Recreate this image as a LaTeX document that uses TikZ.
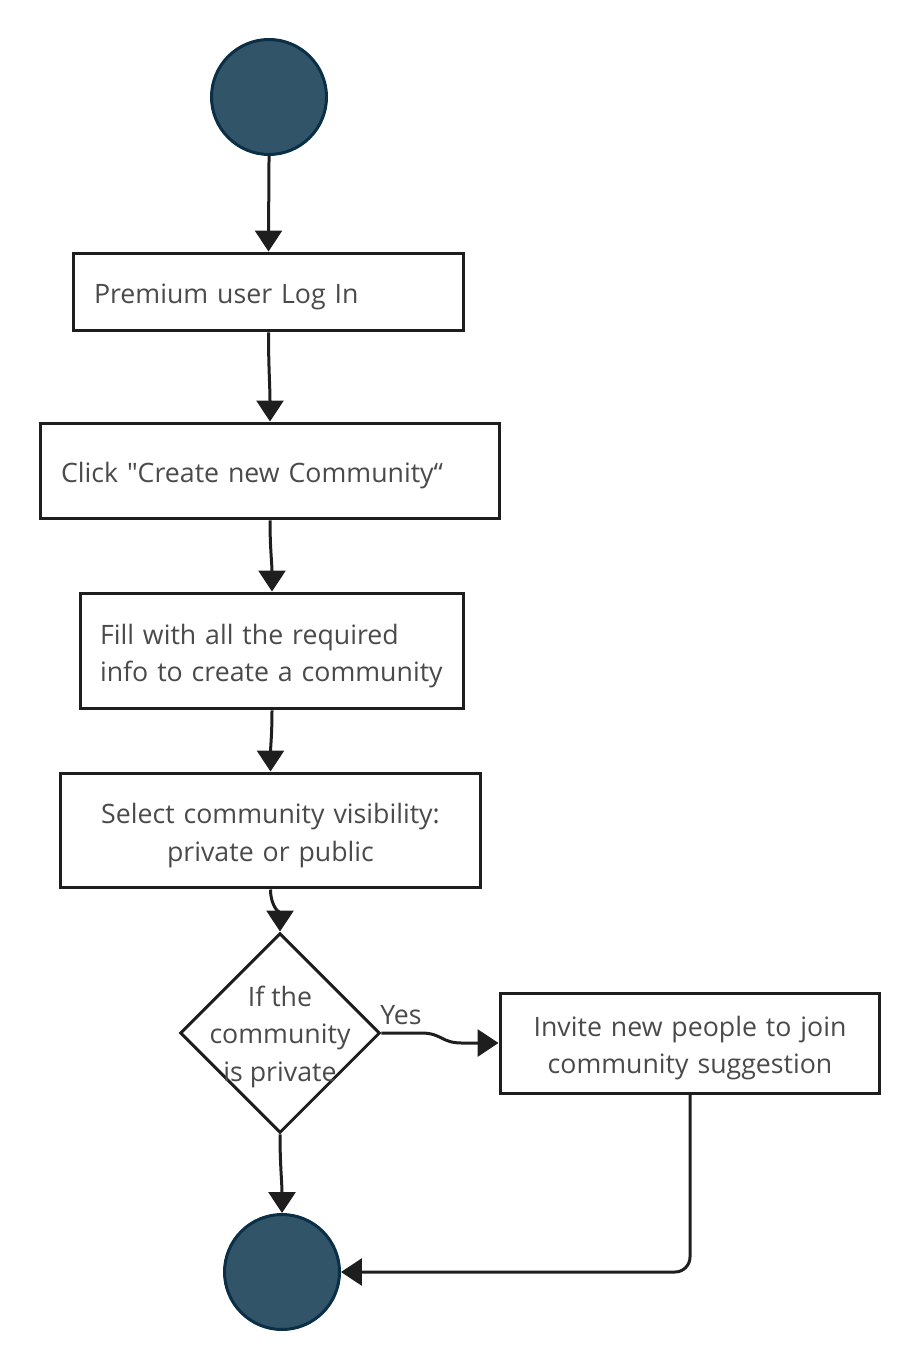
\documentclass[tikz,border=0pt]{standalone}
\usepackage{fontspec}
\setmainfont{Open Sans}
\usetikzlibrary{positioning, arrows.meta, shapes.geometric}
\definecolor{termfill}{HTML}{315468}
\definecolor{termline}{HTML}{0A2F47}
\definecolor{inkline}{HTML}{1E1E1E}
\definecolor{inktext}{HTML}{4A4A4A}

\begin{document}
\begin{tikzpicture}[x=0.02cm, y=-0.02cm,
  every node/.style={font=\fontsize{15.2pt}{21.3pt}\selectfont, text=inktext},
  terminal/.style={circle, draw=termline, fill=termfill, line width=0.06cm, minimum size=2.3cm, inner sep=0pt},
  actbox/.style={rectangle, draw=inkline, line width=0.06cm, inner xsep=0.42cm,
    execute at begin node={\rule{0pt}{\dimexpr\fontcharht\font`l+0.2cm\relax}}},
  decision/.style={diamond, draw=inkline, line width=0.06cm, minimum size=4cm, inner sep=0pt},
  flow/.style={draw=inkline, line width=0.06cm, -{Triangle[width=0.54cm, length=0.42cm]}}]
\useasboundingbox (0,0) rectangle (920,1371);

% start and steps
\node[terminal] (start) at (269,97) {};
\node[actbox, minimum width=7.82cm, minimum height=1.56cm, text width=6.98cm, align=left] (login) at (268.5,292) {Premium user Log In};
\node[actbox, minimum width=9.2cm, minimum height=1.92cm, text width=8.36cm, align=left] (create) at (270,471) {Click \textquotedbl Create new Community“};
\node[actbox, inner xsep=0.4cm, minimum width=7.68cm, minimum height=2.32cm, text width=6.88cm, align=left] (fillinfo) at (272,651) {Fill with all the required\\info to create a community};
\node[actbox, minimum width=8.42cm, minimum height=2.3cm, text width=7.58cm, align=center] (visibility) at (270.5,830.5) {Select community visibility:\\private or public};

% decision
\node[decision] (check) at (280,1033) {\makebox[0pt]{\smash{\raisebox{-0.2cm}{\parbox{3cm}{\centering If the\\community\\is private}}}}};
\node[actbox, minimum width=7.6cm, minimum height=2cm, text width=6.76cm, align=center] (invite) at (690,1043) {Invite new people to join\\community suggestion};
\node (yes) at (401,1015) {Yes};

% end
\node[terminal] (finish) at (282,1272) {};

\draw[flow] (start.south) to[out=-90, in=90] (login.north);
\draw[flow] (login.south) to[out=-90, in=90] (create.north);
\draw[flow] (create.south) to[out=-90, in=90] (fillinfo.north);
\draw[flow] (fillinfo.south) to[out=-90, in=90] (visibility.north);
\draw[flow] (visibility.south) to[out=-90, in=90] (check.north);
\draw[flow] (check.south) to[out=-90, in=90] (finish.north);
\draw[flow] (check.east) -- ++(40,0) .. controls +(20,0) and +(-20,0) .. ++(40,10) -- (invite.west);
\draw[flow, rounded corners=0.3cm] (invite.south) |- (finish.east);
\end{tikzpicture}
\end{document}
